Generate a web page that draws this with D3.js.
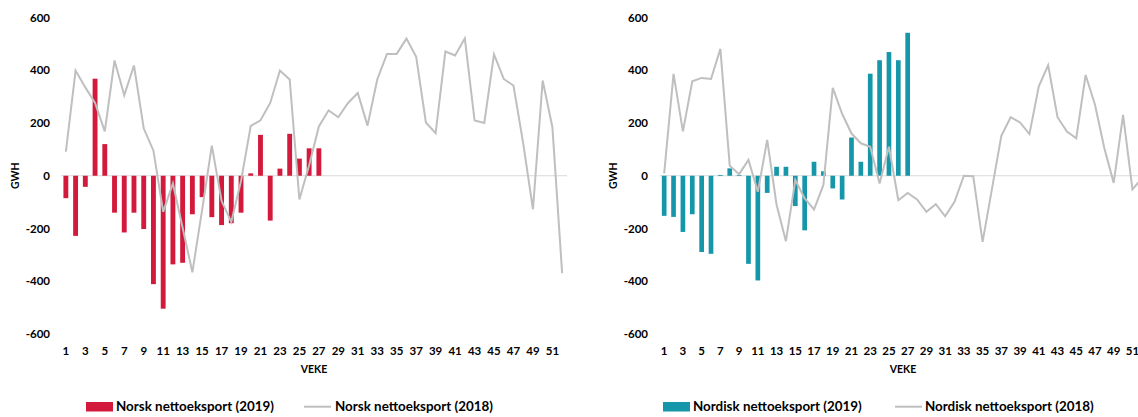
<!DOCTYPE html>
<html><head><meta charset="utf-8">
<script src="https://cdn.jsdelivr.net/npm/d3@7"></script>
<style>
html,body{margin:0;padding:0;background:#fff;}
svg{display:block;}
text{font-family:Lato,"Liberation Sans",sans-serif;font-weight:700;fill:#000;}
</style></head>
<body><svg id="c" width="1138" height="417"></svg>
<script>
const weeks = d3.range(1, 53);
const tickWeeks = d3.range(1, 52, 2);
const yTicks = [-600, -400, -200, 0, 200, 400, 600];

const norsk2019 = [-85, -228, -42, 368, 120, -140, -215, -140, -202, -411, -504, -336, -330, -146, -81, -157, -187, -180, -140, 9, 155, -170, 27, 159, 65, 104, 104];
const norsk2018 = [91, 399, 335, 276, 168, 437, 305, 418, 180, 95, -137, -29, -197, -366, -130, 114, -95, -175, -20, 189, 210, 276, 399, 365, -90, 40, 187, 248, 222, 276, 314, 190, 365, 462, 462, 520, 451, 202, 161, 471, 456, 521, 210, 200, 460, 367, 342, 123, -127, 361, 184, -369];

const nordisk2019 = [-152, -156, -213, -146, -289, -296, 3, 28, 3, -334, -397, -65, 34, 34, -115, -207, 53, 17, -48, -90, 145, 53, 387, 438, 469, 438, 542];
const nordisk2018 = [9, 386, 168, 358, 371, 367, 481, 38, 6, 60, -61, 136, -110, -248, -16, -86, -128, -35, 333, 235, 160, 123, 110, -29, 110, -93, -65, -90, -137, -108, -154, -99, 0, -2, -251, -50, 151, 222, 202, 158, 339, 419, 222, 168, 142, 382, 269, 104, -27, 231, -52, -10];

const legendNames = {
  left: ["Norsk nettoeksport (2019)", "Norsk nettoeksport (2018)"],
  right: ["Nordisk nettoeksport (2019)", "Nordisk nettoeksport (2018)"]
};

const svg = d3.select("#c");

function panel(cfg) {
  const g = svg.append("g");
  const x = d3.scaleBand().domain(weeks).range([cfg.x0, cfg.x1]).paddingInner(0.5).paddingOuter(0.25);
  const y = d3.scaleLinear().domain([-600, 600]).range([334, 17.5]);
  const cx = w => x(w) + x.bandwidth() / 2;

  g.selectAll("text.yt").data(yTicks).join("text")
    .attr("class", "yt")
    .attr("x", cfg.yLabelX).attr("y", d => y(d)).attr("dy", "0.35em")
    .attr("text-anchor", "end").style("font-size", "11.5px")
    .text(d => d);

  g.append("line")
    .attr("x1", cfg.x0).attr("x2", cfg.lineEnd)
    .attr("y1", y(0)).attr("y2", y(0))
    .attr("stroke", "#d9d9d9").attr("stroke-width", 1);

  g.selectAll("rect.bar").data(cfg.bars).join("rect")
    .attr("class", "bar")
    .attr("x", (d, i) => x(i + 1))
    .attr("width", x.bandwidth())
    .attr("y", d => Math.min(y(d), y(0)))
    .attr("height", d => Math.abs(y(d) - y(0)))
    .attr("fill", cfg.color);

  const line = d3.line().x((d, i) => cx(i + 1)).y(d => y(d));
  g.append("path").datum(cfg.line)
    .attr("d", line).attr("fill", "none")
    .attr("stroke", "#bfbfbf").attr("stroke-width", 2)
    .attr("stroke-linejoin", "miter");

  g.selectAll("text.xt").data(tickWeeks).join("text")
    .attr("class", "xt")
    .attr("x", d => cx(d)).attr("y", 350.5).attr("dy", "0.35em")
    .attr("text-anchor", "middle").style("font-size", "11.5px")
    .text(d => d);

  g.append("text").attr("x", (cfg.x0 + cfg.x1) / 2).attr("y", 369).attr("dy", "0.35em")
    .attr("text-anchor", "middle").style("font-size", "10.5px").text("VEKE");
  g.append("text").attr("transform", `translate(${cfg.gwhX},${y(0)}) rotate(-90)`)
    .attr("dy", "0.35em").attr("text-anchor", "middle").style("font-size", "10.5px").text("GWH");

  const lg = g.append("g");
  lg.append("rect").attr("x", cfg.leg[0]).attr("y", 402).attr("width", 27).attr("height", 9.5).attr("fill", cfg.color);
  lg.append("text").attr("x", cfg.leg[1]).attr("y", 406.7).attr("dy", "0.35em").style("font-size", "13.4px").text(cfg.names[0]);
  lg.append("line").attr("x1", cfg.leg[2]).attr("x2", cfg.leg[2] + 27).attr("y1", 406.7).attr("y2", 406.7)
    .attr("stroke", "#bfbfbf").attr("stroke-width", 2);
  lg.append("text").attr("x", cfg.leg[3]).attr("y", 406.7).attr("dy", "0.35em").style("font-size", "13.4px").text(cfg.names[1]);
}

panel({x0: 61, x1: 567, lineEnd: 567, yLabelX: 50, gwhX: 15, color: "#d31a3c",
  bars: norsk2019, line: norsk2018, names: legendNames.left, leg: [86, 116, 304, 335]});
panel({x0: 659.5, x1: 1146.5, lineEnd: 1138, yLabelX: 648, gwhX: 613, color: "#1597a9",
  bars: nordisk2019, line: nordisk2018, names: legendNames.right, leg: [663, 693, 895, 925]});
</script></body></html>
